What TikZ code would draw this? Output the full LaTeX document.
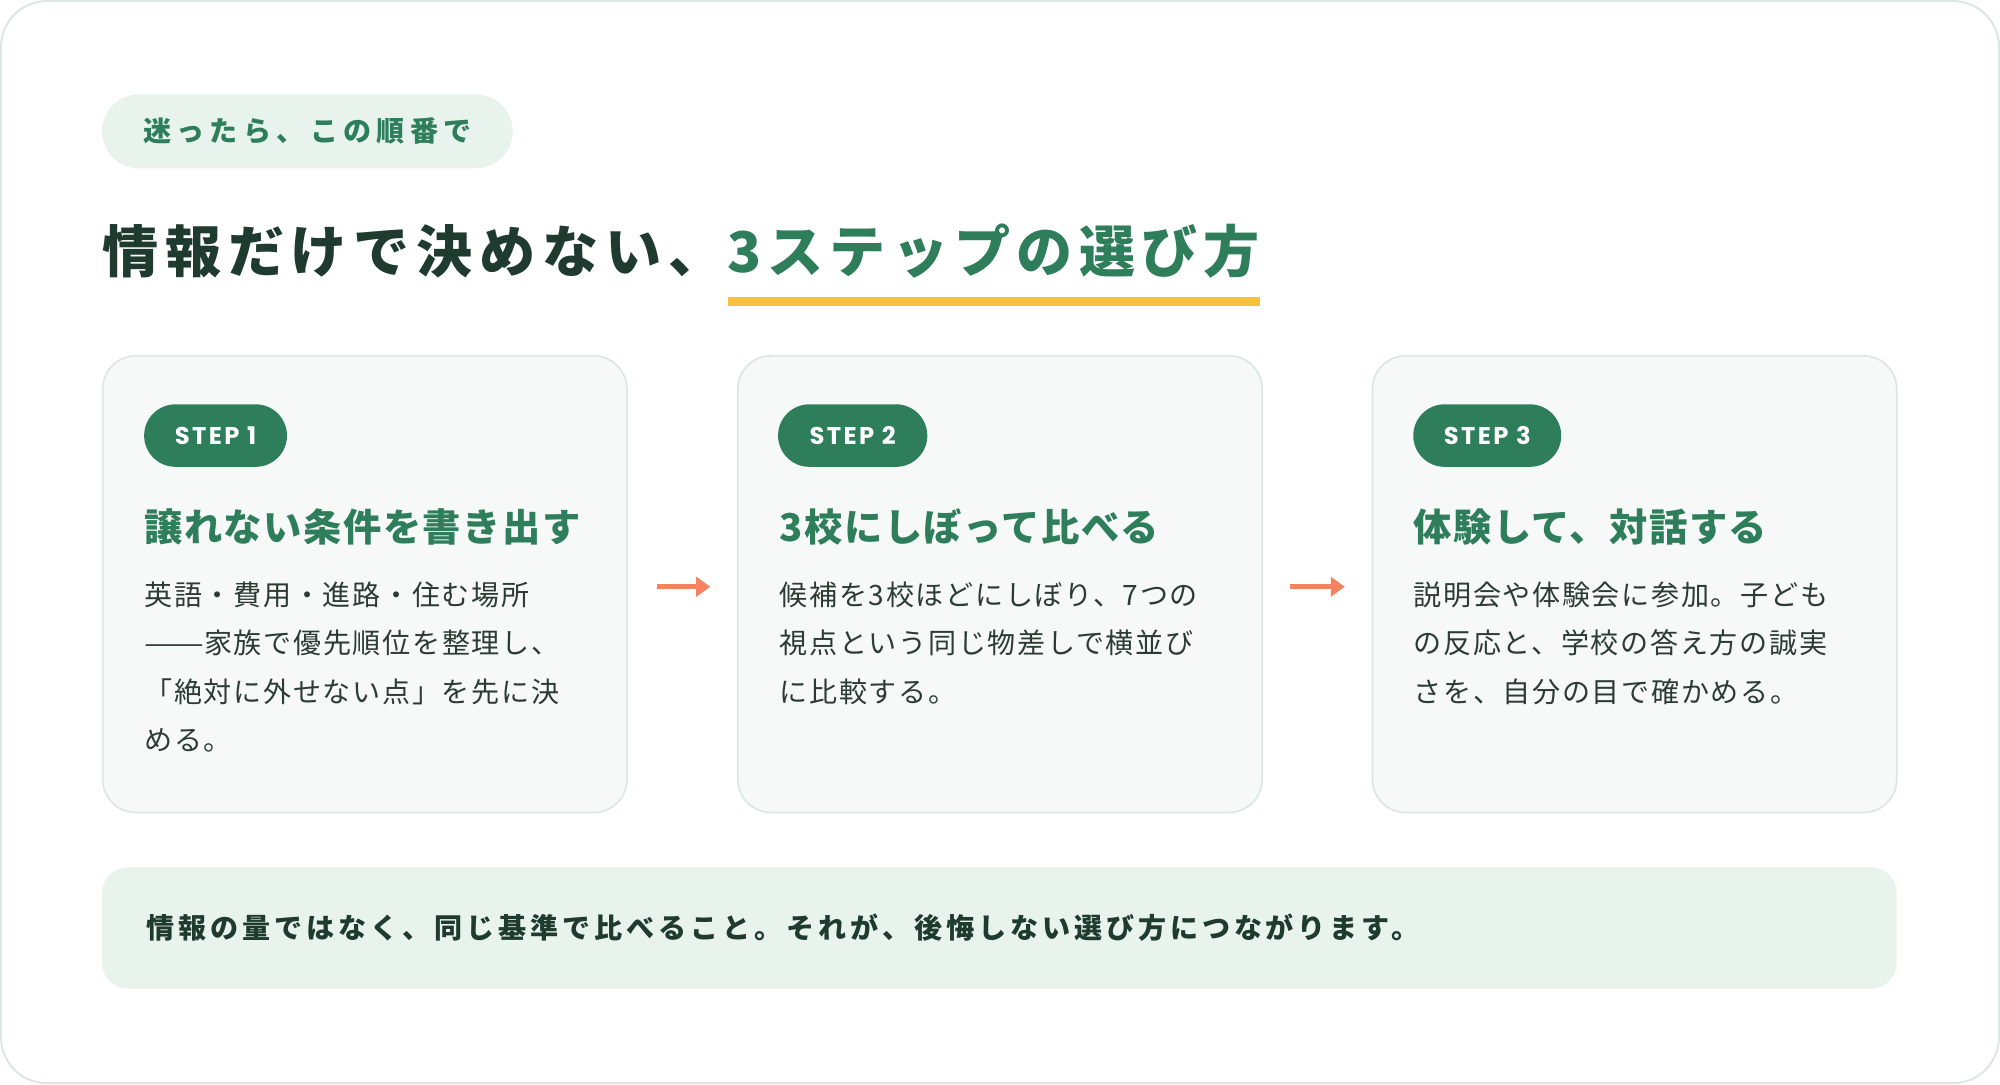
\documentclass[tikz,border=0pt]{standalone}
\usepackage{fontspec}
\usepackage{graphicx}
\setmainfont{Noto Sans CJK JP}
\newfontfamily\stepfont{Poppins}
\usetikzlibrary{arrows.meta}
\definecolor{green1}{HTML}{2E7D5B}
\definecolor{darktxt}{HTML}{1F3A2E}
\definecolor{bodytxt}{HTML}{2D3B35}
\definecolor{pillfill}{HTML}{E8F3EE}
\definecolor{cardfill}{HTML}{F6F9F8}
\definecolor{cardline}{HTML}{DCE6E2}
\definecolor{orange1}{HTML}{F4845F}
\definecolor{yellow1}{HTML}{F6C23E}
\tikzset{
  card/.style={draw=cardline, fill=cardfill, line width=1.3pt, rounded corners=26pt,
    minimum width=411pt, minimum height=358pt, inner sep=0pt},
  badge/.style={fill=green1, rounded corners=24.5pt, minimum height=49pt, inner sep=0pt,
    text=white, font=\stepfont\bfseries\fontsize{19}{22}\selectfont\addfontfeature{LetterSpace=10}},
  head/.style={anchor=west, inner sep=0pt, text=green1,
    font=\bfseries\fontsize{30}{36}\selectfont\addfontfeature{LetterSpace=4}},
  body/.style={anchor=north west, align=left, inner sep=0pt, text=bodytxt,
    font=\fontsize{22}{38}\selectfont\addfontfeature{LetterSpace=6}},
  flow/.style={draw=orange1, line width=3.6pt, -{Triangle[length=11pt,width=15pt]}},
  bigtitle/.style={anchor=west, inner sep=0pt,
    font=\bfseries\fontsize{44}{50}\selectfont\addfontfeature{LetterSpace=12}},
}
\begin{document}
\begin{tikzpicture}[x=1pt,y=-1pt]
\useasboundingbox (0,0) rectangle (1568,850);
\fill[white] (0,0) rectangle (1568,850);
\draw[cardline, line width=1.5pt, rounded corners=36pt] (0.8,0.8) rectangle (1567.2,849.2);

% tag pill
\node[fill=pillfill, rounded corners=29pt, minimum width=322pt, minimum height=58pt, inner sep=0pt,
  text=green1, font=\bfseries\fontsize{22}{26}\selectfont\addfontfeature{LetterSpace=19}] (pill) at (241,103) {迷ったら、この順番で};

% title
\node[bigtitle, text=darktxt] (t1) at (80,197) {情報だけで決めない、};
\node[bigtitle, text=green1, font=\bfseries\fontsize{44}{50}\selectfont\addfontfeature{LetterSpace=11}] (t2) at (570,197) {3ステップの選び方};
\fill[yellow1] (571,233) rectangle (988,240);

% cards
\node[card] (c1) at (286,458) {};
\node[card] (c2) at (784,458) {};
\node[card] (c3) at (1281.5,458) {};

\node[badge, minimum width=112pt] (b1) at (169,341.5) {STEP 1};
\node[badge, minimum width=117pt] (b2) at (668.5,341.5) {STEP 2};
\node[badge, minimum width=116pt] (b3) at (1166,341.5) {STEP 3};

\node[head] (h1) at (113,413) {譲れない条件を書き出す};
\node[head] (h2) at (611,413) {3校にしぼって比べる};
\node[head] (h3) at (1108,413) {体験して、対話する};

\node[body] (p1) at (113,456) {英語・費用・進路・住む場所\\\scalebox{1.27}[1]{\addfontfeature{LetterSpace=0}——}家族で優先順位を整理し、\\「絶対に外せない点」を先に決\\める。};
\node[body] (p2) at (611,456) {候補を3校ほどにしぼり、7つの\\視点という同じ物差しで横並び\\に比較する。};
\node[body] (p3) at (1108,456) {説明会や体験会に参加。子ども\\の反応と、学校の答え方の誠実\\さを、自分の目で確かめる。};

% arrows
\draw[flow] ([xshift=23pt,yshift=-2pt]c1.east) -- ([xshift=-21pt,yshift=-2pt]c2.west);
\draw[flow] ([xshift=21pt,yshift=-2pt]c2.east) -- ([xshift=-21pt,yshift=-2pt]c3.west);

% bottom banner
\node[fill=pillfill, rounded corners=20pt, minimum width=1407pt, minimum height=95pt, inner sep=0pt] (band) at (783.5,727.5) {};
\node[anchor=west, inner sep=0pt, text=darktxt, font=\bfseries\fontsize{22}{26}\selectfont\addfontfeature{LetterSpace=14}] (msg) at (115,727) {情報の量ではなく、同じ基準で比べること。それが、後悔しない選び方につながります。};
\end{tikzpicture}
\end{document}
